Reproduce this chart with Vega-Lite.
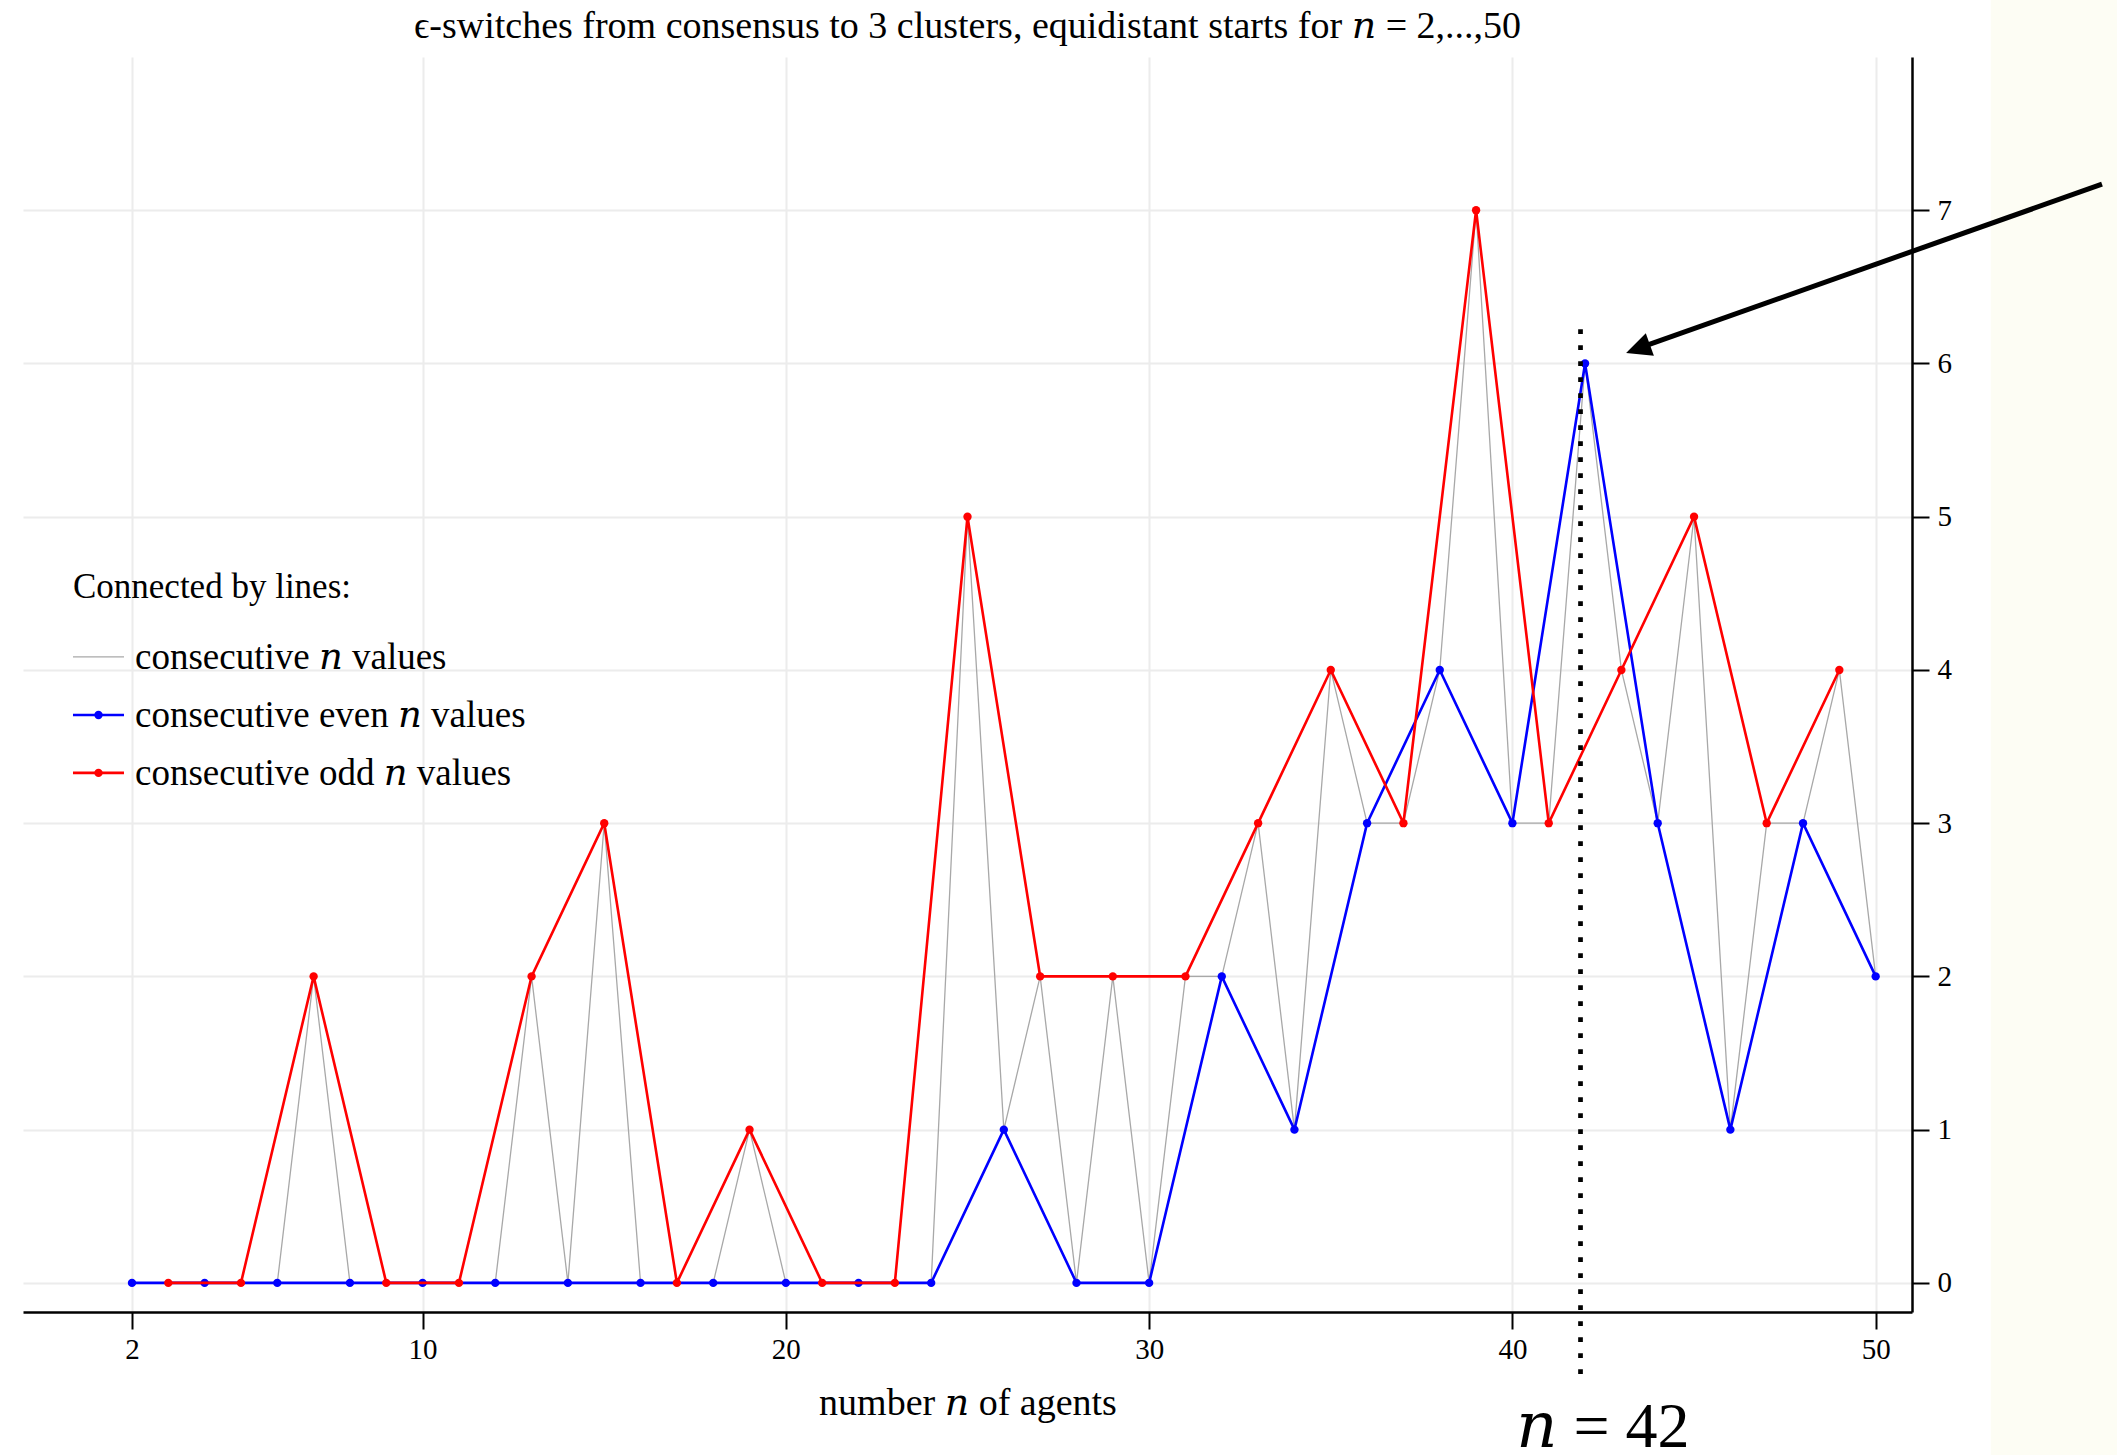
{
  "$schema": "https://vega.github.io/schema/vega-lite/v6.json",
  "autosize": "none",
  "width": 1889,
  "height": 1255,
  "padding": {"left": 23, "top": 57, "right": 205, "bottom": 143},
  "background": "white",
  "config": {
    "view": {"stroke": null},
    "font": "Liberation Serif",
    "axis": {
      "grid": true,
      "gridColor": "#ececec",
      "gridWidth": 2,
      "domainColor": "black",
      "domainWidth": 2.5,
      "tickColor": "black",
      "tickWidth": 2,
      "labelFont": "Liberation Serif",
      "labelColor": "black",
      "labelFontSize": 29,
      "titleFont": "Liberation Serif, DejaVu Serif",
      "titleFontWeight": "normal",
      "titleColor": "black",
      "titleFontSize": 38
    }
  },
  "datasets": {
    "switches": [
      {"n": 2, "count": 0}, {"n": 3, "count": 0}, {"n": 4, "count": 0}, {"n": 5, "count": 0},
      {"n": 6, "count": 0}, {"n": 7, "count": 2}, {"n": 8, "count": 0}, {"n": 9, "count": 0},
      {"n": 10, "count": 0}, {"n": 11, "count": 0}, {"n": 12, "count": 0}, {"n": 13, "count": 2},
      {"n": 14, "count": 0}, {"n": 15, "count": 3}, {"n": 16, "count": 0}, {"n": 17, "count": 0},
      {"n": 18, "count": 0}, {"n": 19, "count": 1}, {"n": 20, "count": 0}, {"n": 21, "count": 0},
      {"n": 22, "count": 0}, {"n": 23, "count": 0}, {"n": 24, "count": 0}, {"n": 25, "count": 5},
      {"n": 26, "count": 1}, {"n": 27, "count": 2}, {"n": 28, "count": 0}, {"n": 29, "count": 2},
      {"n": 30, "count": 0}, {"n": 31, "count": 2}, {"n": 32, "count": 2}, {"n": 33, "count": 3},
      {"n": 34, "count": 1}, {"n": 35, "count": 4}, {"n": 36, "count": 3}, {"n": 37, "count": 3},
      {"n": 38, "count": 4}, {"n": 39, "count": 7}, {"n": 40, "count": 3}, {"n": 41, "count": 3},
      {"n": 42, "count": 6}, {"n": 43, "count": 4}, {"n": 44, "count": 3}, {"n": 45, "count": 5},
      {"n": 46, "count": 1}, {"n": 47, "count": 3}, {"n": 48, "count": 3}, {"n": 49, "count": 4},
      {"n": 50, "count": 2}
    ],
    "single": [{}]
  },
  "layer": [
    {
      "data": {"name": "single"},
      "mark": {"type": "rect", "color": "#fdfdf4", "clip": false},
      "encoding": {
        "x": {"datum": 53.17, "type": "quantitative",
              "scale": {"domain": [-1, 51], "nice": false, "zero": false},
              "axis": {"orient": "bottom", "values": [2, 10, 20, 30, 40, 50], "tickSize": 17,
                       "labelPadding": 6, "title": "number 𝑛 of agents", "titlePadding": 20}},
        "x2": {"datum": 70},
        "y": {"datum": -5, "type": "quantitative",
              "scale": {"domain": [-0.19, 8], "nice": false, "zero": false},
              "axis": {"orient": "right", "values": [0, 1, 2, 3, 4, 5, 6, 7], "format": "d",
                       "tickSize": 17, "labelPadding": 8, "title": null}},
        "y2": {"datum": 12}
      }
    },
    {
      "data": {"name": "switches"},
      "mark": {"type": "line", "color": "#a8a8a8", "strokeWidth": 1.3},
      "encoding": {
        "x": {"field": "n", "type": "quantitative"},
        "y": {"field": "count", "type": "quantitative"}
      }
    },
    {
      "data": {"name": "switches"},
      "transform": [{"filter": "datum.n % 2 == 0"}],
      "mark": {"type": "line", "color": "#0000ff", "strokeWidth": 2.6},
      "encoding": {
        "x": {"field": "n", "type": "quantitative"},
        "y": {"field": "count", "type": "quantitative"}
      }
    },
    {
      "data": {"name": "switches"},
      "transform": [{"filter": "datum.n % 2 == 0"}],
      "mark": {"type": "circle", "color": "#0000ff", "size": 70, "opacity": 1},
      "encoding": {
        "x": {"field": "n", "type": "quantitative"},
        "y": {"field": "count", "type": "quantitative"}
      }
    },
    {
      "data": {"name": "switches"},
      "transform": [{"filter": "datum.n % 2 == 1"}],
      "mark": {"type": "line", "color": "#ff0000", "strokeWidth": 2.6},
      "encoding": {
        "x": {"field": "n", "type": "quantitative"},
        "y": {"field": "count", "type": "quantitative"}
      }
    },
    {
      "data": {"name": "switches"},
      "transform": [{"filter": "datum.n % 2 == 1"}],
      "mark": {"type": "circle", "color": "#ff0000", "size": 70, "opacity": 1},
      "encoding": {
        "x": {"field": "n", "type": "quantitative"},
        "y": {"field": "count", "type": "quantitative"}
      }
    },
    {
      "data": {"name": "single"},
      "mark": {"type": "rule", "color": "black", "strokeWidth": 4.7, "strokeDash": [4.7, 11.3], "clip": false},
      "encoding": {
        "x": {"datum": 41.875, "type": "quantitative"},
        "y": {"datum": -0.594, "type": "quantitative"},
        "y2": {"datum": 6.251}
      }
    },
    {
      "data": {"name": "single"},
      "mark": {"type": "rule", "color": "black", "strokeWidth": 5, "strokeCap": "butt", "clip": false},
      "encoding": {
        "x": {"datum": 56.23, "type": "quantitative"},
        "y": {"datum": 7.17, "type": "quantitative"},
        "x2": {"datum": 43.75},
        "y2": {"datum": 6.123}
      }
    },
    {
      "data": {"name": "single"},
      "mark": {"type": "point", "shape": "M0,0 L-1,2.1 L1,2.1 Z", "filled": true, "color": "black",
               "opacity": 1, "size": 576, "angle": 250.3, "clip": false},
      "encoding": {
        "x": {"datum": 43.13, "type": "quantitative"},
        "y": {"datum": 6.068, "type": "quantitative"}
      }
    },
    {
      "data": {"name": "single"},
      "mark": {"type": "text", "text": "ϵ-switches from consensus to 3 clusters, equidistant starts for 𝑛 = 2,...,50",
               "font": "Liberation Serif, DejaVu Serif", "fontSize": 38, "color": "black", "align": "center",
               "baseline": "alphabetic", "clip": false},
      "encoding": {
        "x": {"datum": 25, "type": "quantitative"},
        "y": {"datum": 8.125, "type": "quantitative"}
      }
    },
    {
      "data": {"name": "single"},
      "mark": {"type": "text", "text": "𝑛 = 42", "font": "Liberation Serif, DejaVu Serif", "fontSize": 64,
               "color": "black", "align": "center", "baseline": "alphabetic", "clip": false},
      "encoding": {
        "x": {"datum": 42.49, "type": "quantitative"},
        "y": {"datum": -1.07, "type": "quantitative"}
      }
    },
    {
      "data": {"name": "single"},
      "mark": {"type": "text", "text": "Connected by lines:", "font": "Liberation Serif", "fontSize": 35,
               "color": "black", "align": "left", "baseline": "alphabetic"},
      "encoding": {
        "x": {"datum": 0.376, "type": "quantitative"},
        "y": {"datum": 4.47, "type": "quantitative"}
      }
    },
    {
      "data": {"name": "single"},
      "mark": {"type": "rule", "color": "#a8a8a8", "strokeWidth": 1.3},
      "encoding": {
        "x": {"datum": 0.376, "type": "quantitative"},
        "x2": {"datum": 1.78},
        "y": {"datum": 4.085, "type": "quantitative"}
      }
    },
    {
      "data": {"name": "single"},
      "mark": {"type": "rule", "color": "#0000ff", "strokeWidth": 2.6},
      "encoding": {
        "x": {"datum": 0.376, "type": "quantitative"},
        "x2": {"datum": 1.78},
        "y": {"datum": 3.706, "type": "quantitative"}
      }
    },
    {
      "data": {"name": "single"},
      "mark": {"type": "circle", "color": "#0000ff", "size": 70, "opacity": 1},
      "encoding": {
        "x": {"datum": 1.078, "type": "quantitative"},
        "y": {"datum": 3.706, "type": "quantitative"}
      }
    },
    {
      "data": {"name": "single"},
      "mark": {"type": "rule", "color": "#ff0000", "strokeWidth": 2.6},
      "encoding": {
        "x": {"datum": 0.376, "type": "quantitative"},
        "x2": {"datum": 1.78},
        "y": {"datum": 3.328, "type": "quantitative"}
      }
    },
    {
      "data": {"name": "single"},
      "mark": {"type": "circle", "color": "#ff0000", "size": 70, "opacity": 1},
      "encoding": {
        "x": {"datum": 1.078, "type": "quantitative"},
        "y": {"datum": 3.328, "type": "quantitative"}
      }
    },
    {
      "data": {"name": "single"},
      "mark": {"type": "text", "text": "consecutive 𝑛 values", "font": "Liberation Serif, DejaVu Serif", "fontSize": 37,
               "color": "black", "align": "left", "baseline": "alphabetic"},
      "encoding": {
        "x": {"datum": 2.083, "type": "quantitative"},
        "y": {"datum": 4.006, "type": "quantitative"}
      }
    },
    {
      "data": {"name": "single"},
      "mark": {"type": "text", "text": "consecutive even 𝑛 values", "font": "Liberation Serif, DejaVu Serif", "fontSize": 37,
               "color": "black", "align": "left", "baseline": "alphabetic"},
      "encoding": {
        "x": {"datum": 2.083, "type": "quantitative"},
        "y": {"datum": 3.628, "type": "quantitative"}
      }
    },
    {
      "data": {"name": "single"},
      "mark": {"type": "text", "text": "consecutive odd 𝑛 values", "font": "Liberation Serif, DejaVu Serif", "fontSize": 37,
               "color": "black", "align": "left", "baseline": "alphabetic"},
      "encoding": {
        "x": {"datum": 2.083, "type": "quantitative"},
        "y": {"datum": 3.249, "type": "quantitative"}
      }
    }
  ]
}
